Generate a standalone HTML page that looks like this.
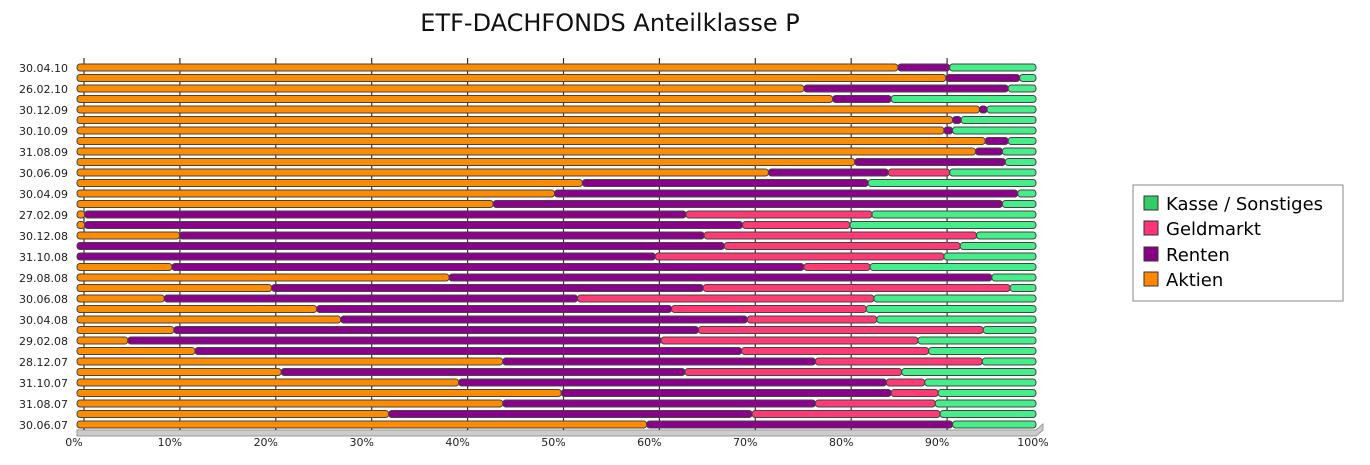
<!DOCTYPE html>
<html><head><meta charset="utf-8"><style>
body{margin:0;background:#fff;font-family:"Liberation Sans","DejaVu Sans",sans-serif}
</style></head><body>
<svg id="chart" width="1370" height="460" xmlns="http://www.w3.org/2000/svg" font-family="DejaVu Sans, Liberation Sans, sans-serif">
<text x="610" y="31" text-anchor="middle" font-size="24" fill="#111">ETF-DACHFONDS Anteilklasse P</text>
<g id="grid"></g><g id="bars"></g><g id="labels"></g>
<g>
<rect x="1133" y="185" width="210" height="116" fill="#fff" stroke="#888"/>
<g><rect x="1144" y="196" width="14" height="14" fill="#33cc66" stroke="#333"/><text x="1166" y="210" font-size="18">Kasse / Sonstiges</text></g>
<g><rect x="1144" y="221" width="14" height="14" fill="#ff3377" stroke="#333"/><text x="1166" y="235" font-size="18">Geldmarkt</text></g>
<g><rect x="1144" y="247" width="14" height="14" fill="#880088" stroke="#333"/><text x="1166" y="261" font-size="18">Renten</text></g>
<g><rect x="1144" y="272" width="14" height="14" fill="#ff8800" stroke="#333"/><text x="1166" y="286" font-size="18">Aktien</text></g>
</g>
</svg>
<script>
// top-to-bottom order
const categories=["30.04.10","","26.02.10","","30.12.09","","30.10.09","","31.08.09","","30.06.09","","30.04.09","","27.02.09","","30.12.08","","31.10.08","","29.08.08","","30.06.08","","30.04.08","","29.02.08","","28.12.07","","31.10.07","","31.08.07","","30.06.07"];
const aktien=[85.6,90.6,75.8,78.8,94.1,91.3,90.4,94.7,93.7,81.1,72.1,52.7,49.8,43.4,0.8,0.8,10.7,0,0,9.9,38.8,20.3,9.1,25.0,27.5,10.1,5.3,12.3,44.4,21.3,39.8,50.5,44.4,32.5,59.4];
const renten=[5.4,7.7,21.3,6.1,0.8,0.9,0.9,2.4,2.8,15.7,12.5,29.8,48.3,53.1,62.7,68.6,54.7,67.5,60.3,65.9,56.6,45.0,43.1,37.0,42.4,54.7,55.6,57.0,32.6,42.1,44.6,34.4,32.6,37.9,31.9];
const geldmarkt=[0,0,0,0,0,0,0,0,0,0,6.4,0,0,0,19.4,11.2,28.4,24.6,30.1,6.9,0,32.0,30.9,20.3,13.5,29.7,26.8,19.5,17.4,22.6,4.0,4.9,12.5,19.6,0];
const ticks=["0%","10%","20%","30%","40%","50%","60%","70%","80%","90%","100%"];
const NS="http://www.w3.org/2000/svg";
const X0=77,W=959,Y0=64,PITCH=10.5,BH=7;
const xs=v=>X0+v/100*W, ys=i=>Y0+i*PITCH;
function mk(t,a,p){const e=document.createElementNS(NS,t);for(const k in a)e.setAttribute(k,a[k]);p.appendChild(e);return e;}
const grid=document.getElementById('grid'),bars=document.getElementById('bars'),labels=document.getElementById('labels');
mk('polygon',{points:`${X0},${ys(34)+BH+2} ${X0+W},${ys(34)+BH+2} ${X0+W+7},${ys(34)+BH-4} ${X0+W+7},${ys(34)+BH+2} ${X0+W},${ys(34)+BH+8} ${X0},${ys(34)+BH+8}`,fill:'#ccc',stroke:'#999'},grid);
ticks.forEach((t,i)=>{
 const x=xs(i*10);
 if(i<ticks.length-1){
  const l=mk('line',{x1:x+7,y1:58,x2:x+7,y2:ys(34)+BH+2,stroke:'#333','stroke-width':1.2},grid);
  
  
 }
 const tx=mk('text',{x:x-3,y:446,'text-anchor':'middle','font-size':11,fill:'#222'},labels);
 tx.textContent=t;
 
 
});
const cols=['#ff8c00','#8b008b','#ff3a74','#44ee88'];
categories.forEach((c,i)=>{
 const y=ys(i);
 const vals=[aktien[i],renten[i],geldmarkt[i],Math.max(0,100-aktien[i]-renten[i]-geldmarkt[i])];
 let acc=0;
 vals.forEach((v,k)=>{
  if(v<=0)return;
  const r=mk('rect',{x:xs(acc),y:y,width:v/100*W,height:BH,fill:cols[k],stroke:'#444','stroke-width':1,rx:3},bars);
  
  
  acc+=v;
 });
 if(c){
  const t=mk('text',{x:68,y:y+8,'text-anchor':'end','font-size':11,fill:'#222'},labels);
  t.textContent=c;
  
  
 }
});
</script>
</body></html>
